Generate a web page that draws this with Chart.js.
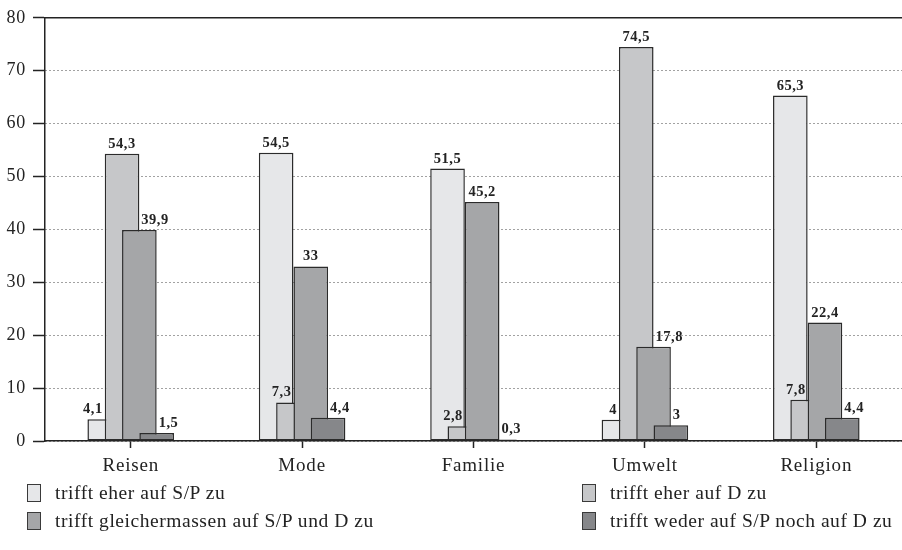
<!DOCTYPE html>
<html>
<head>
<meta charset="utf-8">
<script src="https://cdn.jsdelivr.net/npm/chart.js@4.4.1/dist/chart.umd.min.js"></script>
<style>
  html, body { margin: 0; padding: 0; background: #fff; }
  #wrap { position: relative; width: 902px; height: 550px; }
  canvas { display: block; }
  #legend { position: absolute; left: 0; top: 0; width: 902px; height: 550px; pointer-events: none;
            font-family: "Liberation Serif", serif; font-size: 19.5px; color: #222; letter-spacing: 0.55px; }
  .item { position: absolute; display: flex; align-items: center; white-space: nowrap; height: 20px; }
  .sw { box-sizing: border-box; width: 14px; height: 18px; border: 1.5px solid #3a3a3a; margin-right: 14px; flex: none; }
</style>
</head>
<body>
<div id="wrap">
  <canvas id="c" width="902" height="550"></canvas>
  <div id="legend"></div>
</div>
<script>
// Themen and answer shares (percent)
const categories = ['Reisen', 'Mode', 'Familie', 'Umwelt', 'Religion'];
const seriesNames = [
  'trifft eher auf S/P zu',
  'trifft eher auf D zu',
  'trifft gleichermassen auf S/P und D zu',
  'trifft weder auf S/P noch auf D zu'
];
const eherSP  = [4.1, 54.5, 51.5, 4, 65.3];
const eherD   = [54.3, 7.3, 2.8, 74.5, 7.8];
const gleich  = [39.9, 33, 45.2, 17.8, 22.4];
const weder   = [1.5, 4.4, 0.3, 3, 4.4];
const yTicks  = [0, 10, 20, 30, 40, 50, 60, 70, 80];

const fills = ['#e6e7e9', '#c6c7c9', '#a5a6a8', '#86878a'];
const ink = '#232323';
const serif = '"Liberation Serif", "Times New Roman", serif';

const seriesValues = [eherSP, eherD, gleich, weder];

// Later series are drawn over earlier ones (overlapping bars)
const forwardOrder = {
  id: 'forwardOrder',
  beforeDatasetsDraw(chart) {
    const metas = chart.getSortedVisibleDatasetMetas();
    metas.forEach(m => {
      if (typeof chart._drawDataset === 'function') chart._drawDataset(m);
      else m.controller.draw();
    });
    return false;
  }
};

// Slightly wider serif text on the canvas
const spacing = {
  id: 'spacing',
  beforeDraw(chart) { chart.ctx.letterSpacing = '0.8px'; },
  afterDraw(chart) { chart.ctx.letterSpacing = '0px'; }
};

// Value labels above the bars, moved aside when a neighbouring bar is taller
const valueLabels = {
  id: 'valueLabels',
  afterDraw(chart) {
    const ctx = chart.ctx;
    const metas = chart.getSortedVisibleDatasetMetas();
    ctx.save();
    ctx.letterSpacing = '0.5px';
    ctx.font = 'bold 14.5px ' + serif;
    ctx.fillStyle = ink;
    ctx.textAlign = 'center';
    ctx.textBaseline = 'alphabetic';
    metas.forEach((meta, di) => {
      const vals = chart.data.datasets[meta.index].data;
      meta.data.forEach((bar, i) => {
        const v = vals[i];
        const text = String(v).replace('.', ',');
        const w = ctx.measureText(text).width;
        const prev = di > 0 ? chart.data.datasets[metas[di - 1].index].data[i] : -Infinity;
        const next = di < metas.length - 1 ? chart.data.datasets[metas[di + 1].index].data[i] : -Infinity;
        let x = bar.x;
        if (next > v) x = bar.x - 2 - w / 2;
        else if (prev > v) x = bar.x + 2 + w / 2;
        ctx.fillText(text, x, bar.y - 6);
      });
    });
    ctx.restore();
  }
};

new Chart(document.getElementById('c'), {
  type: 'bar',
  data: {
    labels: categories,
    datasets: seriesValues.map((vals, k) => ({
      label: seriesNames[k],
      data: vals,
      backgroundColor: fills[k],
      borderColor: '#2b2b2b',
      borderWidth: 1.5,
      borderSkipped: false,
      categoryPercentage: 0.404,
      barPercentage: 2.0
    }))
  },
  options: {
    responsive: false,
    animation: false,
    devicePixelRatio: 1,
    layout: { padding: { top: 15, right: 0, bottom: 69, left: 0 } },
    plugins: {
      legend: { display: false },
      tooltip: { enabled: false },
      title: { display: false }
    },
    scales: {
      x: {
        type: 'category',
        position: 'bottom',
        grid: { display: true, drawOnChartArea: false, drawTicks: true, tickLength: 7,
                offset: false, tickColor: ink, tickWidth: 1.5, color: ink },
        border: { display: true, color: ink, width: 1.5 },
        ticks: { color: ink, padding: 7, font: { family: serif, size: 19 } },
        afterFit(s) { s.height = 40; }
      },
      xTop: {
        type: 'category',
        position: 'top',
        grid: { display: false },
        ticks: { display: false },
        border: { display: true, color: ink, width: 1.5 },
        afterFit(s) { s.height = 0; }
      },
      y: {
        min: 0,
        max: 80,
        afterBuildTicks(s) { s.ticks = yTicks.map(v => ({ value: v })); },
        ticks: { color: ink, padding: 7, font: { family: serif, size: 18 } },
        grid: { color: '#444', lineWidth: 1, drawTicks: true, tickLength: 12,
                tickColor: ink, tickWidth: 1.5 },
        border: { display: true, color: ink, width: 1.5, dash: [1, 3] },
        afterFit(s) { s.width = 45; }
      }
    }
  },
  plugins: [forwardOrder, spacing, valueLabels]
});

// Two-column legend
const legendPos = [[27, 483], [582, 483], [27, 511], [582, 511]];
const legend = document.getElementById('legend');
seriesNames.forEach((name, k) => {
  const item = document.createElement('div');
  item.className = 'item';
  item.style.left = legendPos[k][0] + 'px';
  item.style.top = legendPos[k][1] + 'px';
  const sw = document.createElement('span');
  sw.className = 'sw';
  sw.style.background = fills[k];
  const tx = document.createElement('span');
  tx.textContent = name;
  item.appendChild(sw);
  item.appendChild(tx);
  legend.appendChild(item);
});
</script>
</body>
</html>
